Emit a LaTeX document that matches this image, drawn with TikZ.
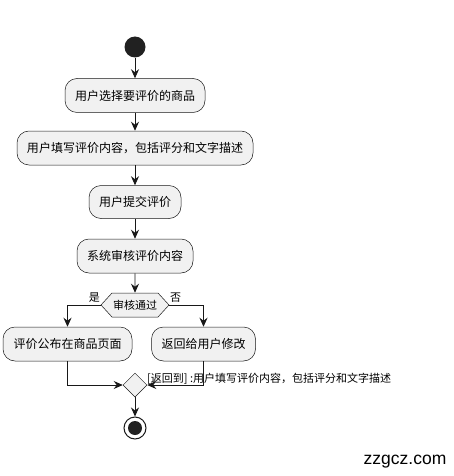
\documentclass[tikz,border=0pt]{standalone}
\usepackage{fontspec}
\setmainfont{Noto Sans CJK SC}
\newfontfamily\wmfont{Liberation Sans}
\usetikzlibrary{arrows.meta,shapes.geometric,shapes.symbols}
\definecolor{boxfill}{HTML}{F1F1F1}
\definecolor{boxline}{HTML}{181818}
\begin{document}
\begin{tikzpicture}[x=1pt,y=-1pt,
  act/.style={draw=boxline,fill=boxfill,rounded corners=12pt,line width=0.5pt,
    font=\fontsize{12}{14}\selectfont,minimum height=34pt,inner sep=0pt},
  flow/.style={draw=boxline,line width=0.8pt,-{Stealth[length=9pt,width=8pt,inset=3pt]}},
  lbl/.style={font=\fontsize{11}{13}\selectfont,inner sep=0pt},
]
\useasboundingbox (0,0) rectangle (453,476);
\node[circle,fill=black!87,minimum size=21pt,inner sep=0pt] (start) at (135,47) {};
\node[act,minimum width=140pt] (a1) at (135,95.5) {用户选择要评价的商品};
\node[act,minimum width=236pt] (a2) at (135,148) {用户填写评价内容，包括评分和文字描述};
\node[act,minimum width=92pt,minimum height=33pt] (a3) at (135,202) {用户提交评价};
\node[act,minimum width=116pt] (a4) at (135,256) {系统审核评价内容};
\node[signal,signal to=west and east,signal pointer angle=95,draw=boxline,fill=boxfill,
  line width=0.5pt,minimum width=68pt,minimum height=24pt,inner sep=0pt,
  font=\fontsize{11}{13}\selectfont] (dec) at (135,305) {审核通过};
\node[act,minimum width=129pt] (a5) at (67.5,344) {评价公布在商品页面};
\node[act,minimum width=104pt] (a6) at (203.5,344) {返回给用户修改};
\node[diamond,aspect=1,draw=boxline,fill=boxfill,line width=0.5pt,
  minimum width=24pt,minimum height=24pt,inner sep=0pt] (merge) at (135,385) {};
\node[circle,draw=boxline,fill=white,line width=1pt,minimum size=22pt,inner sep=0pt] (stop) at (135,428) {};
\node[circle,fill=black!87,minimum size=14pt,inner sep=0pt] (stopin) at (stop.center) {};
\node[lbl,anchor=south east] (yes) at (100,303) {是};
\node[lbl,anchor=south west] (no) at (170,303) {否};
\node[lbl,anchor=west] (back) at (147,379) {[返回到] :用户填写评价内容，包括评分和文字描述};
\node[font=\wmfont\fontsize{17.5}{20}\selectfont,inner sep=0pt] (wm) at (405,462) {zzgcz.com};

\draw[flow] (start) -- (a1);
\draw[flow] (a1) -- (a2);
\draw[flow] (a2) -- (a3);
\draw[flow] (a3) -- (a4);
\draw[flow] (a4) -- (dec);
\draw[flow] (dec.west) -| (a5.north);
\draw[flow] (dec.east) -| (a6.north);
\draw[flow] (a5.south) |- (merge.west);
\draw[flow] (a6.south) |- (merge.east);
\draw[flow] (merge) -- (stop);
\end{tikzpicture}
\end{document}
